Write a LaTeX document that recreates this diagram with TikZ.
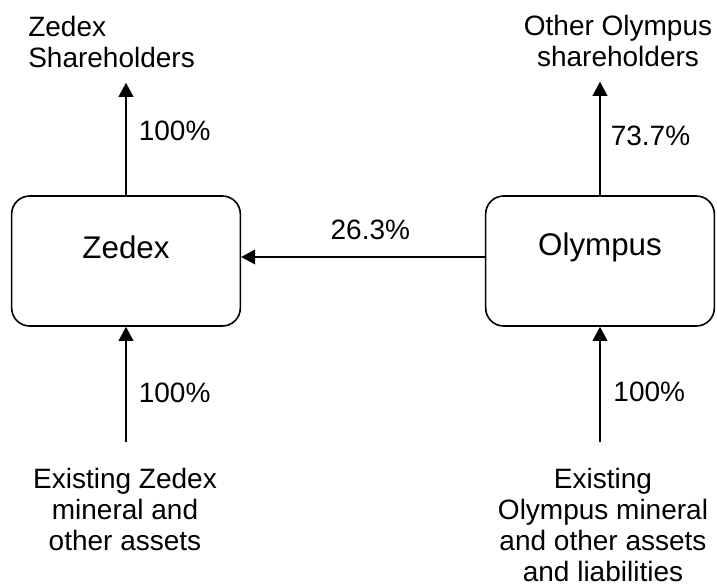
\documentclass[tikz,border=0pt]{standalone}
\usepackage{fontspec}
\setmainfont{Liberation Sans}
\usepackage{tikz}
\usetikzlibrary{calc}
\usetikzlibrary{arrows.meta}
\usetikzlibrary{positioning}

\tikzset{
  entity/.style={draw, line width=1.2pt, rounded corners=13.5pt, minimum width=171.5pt, minimum height=97.5pt},
  boxtext/.style={font=\fontsize{23.5}{27}\selectfont, inner sep=0pt},
  party/.style={font=\fontsize{21}{23.25}\selectfont, inner sep=0pt},
  pct/.style={font=\fontsize{21}{24}\selectfont, inner sep=0pt},
  link/.style={line width=1.2pt, -{Triangle[length=10.5pt, width=11pt]}}
}

\begin{document}
\begin{tikzpicture}[x=.75pt, y=-.75pt]
\useasboundingbox (0,0) rectangle (717,587);

% the two companies
\node[entity] (zedex) at (126,261) {};
\node[entity] (olympus) at (600,261) {};
\node[boxtext] (zedexname) at ($(zedex.center)+(0,-14)$) {Zedex};
\node[boxtext] (olympusname) at ($(olympus.center)+(0,-14)$) {Olympus};

% owners and assets
\node[party, anchor=north west, align=left] (zedexsh) at (28,16) {Zedex\\Shareholders};
\node[party, anchor=north, align=center] (olympussh) at (618,15) {Other Olympus\\shareholders};
\node[party, anchor=north, align=center] (zedexsrc) at (125,468) {Existing Zedex\\mineral and\\other assets};
\node[party, anchor=north, align=center] (olympussrc) at (603,468) {Existing\\Olympus mineral\\and other assets\\and liabilities};

% holdings
\draw[link, shorten >=11pt] (zedex.north) -- node[pct, right=9pt, pos=.51] (zedexup) {100\%} (zedex.north |- zedexsh.south);
\draw[link, shorten >=11pt] (olympus.north) -- node[pct, right=7.5pt, pos=.46] (olympusup) {73.7\%} (olympus.north |- olympussh.south);
\draw[link, shorten <=19.5pt] (zedex.south |- zedexsrc.north) -- node[pct, right=9pt, pos=.53] (zedexdown) {100\%} (zedex.south);
\draw[link, shorten <=19.5pt] (olympus.south |- olympussrc.north) -- node[pct, right=9.5pt, pos=.54] (olympusdown) {100\%} (olympus.south);
\draw[link] ([yshift=3pt]olympus.west) -- node[pct, above=12pt, pos=.47] (stake) {26.3\%} ([yshift=3pt]zedex.east);

\end{tikzpicture}
\end{document}
